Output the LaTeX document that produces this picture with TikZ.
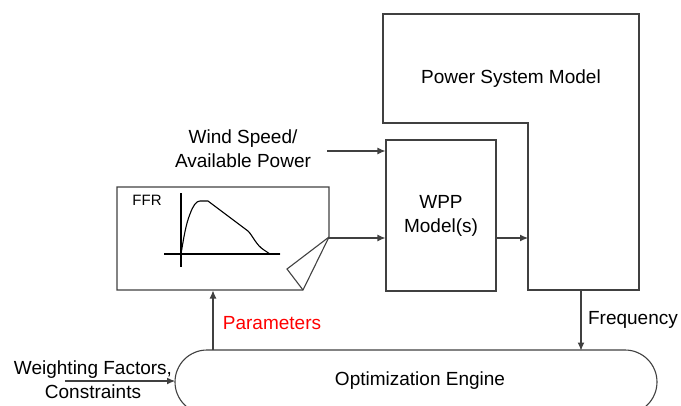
\documentclass[tikz,border=0pt]{standalone}
\usepackage{fontspec}
\setmainfont{Liberation Sans}
\usetikzlibrary{arrows.meta}
\definecolor{ln}{HTML}{404040}
\tikzset{
  box/.style={draw=ln, line width=1.1pt},
  arr/.style={draw=ln, line width=1.1pt, -{Latex[length=8pt,width=7pt]}},
  lbl/.style={font=\fontsize{19}{24}\selectfont, align=center, inner sep=0pt},
  curve/.style={draw=black, line width=1.1pt, line join=round},
}
\begin{document}
\begin{tikzpicture}[x=1pt,y=-1pt]
\useasboundingbox (0,0) rectangle (681,405);
% Power system model (L shape)
\draw[box] (383,14) -- (639,14) -- (639,290) -- (528,290) -- (528,123) -- (383,123) -- cycle;
\node[lbl] (ps) at (511,79) {Power System Model};
\coordinate (psin) at (528,238);
\coordinate (psout) at (581,290);
% WPP
\node[box, lbl, minimum width=110pt, minimum height=151pt] (wpp) at (441,215.5) {WPP\\Model(s)};
% Wind speed
\node[lbl] (wind) at (243,149) {Wind Speed/\\Available Power};
\coordinate (windout) at (327,151);
% FFR box
\draw[box] (117,187) -- (329,187) -- (329,237) -- (303,290) -- (117,290) -- cycle;
\draw[box] (329,237) -- (287,269) -- (303,290);
\coordinate (ffrout) at (329,238);
\coordinate (ffrin) at (213,290.5);
\node[font=\fontsize{15}{18}\selectfont, inner sep=0pt] (ffr) at (147,200) {FFR};
\draw[curve] (181,193) -- (181,267);
\draw[curve] (164,254) -- (280,254);
\draw[curve] (181,254) .. controls (184,236) and (186,224) .. (190,214)
  .. controls (193,206) and (196,201) .. (200,201) -- (208,201) -- (248,231)
  .. controls (253,236) and (256,245) .. (264,250) -- (270,254) -- (280,254);
% Optimization engine
\draw[box, rounded corners=32pt] (175,350) rectangle (657,414);
\node[lbl] (opt) at (420,381) {Optimization Engine};
\coordinate (optparam) at (213,350);
\coordinate (optfreq) at (581,350.5);
\coordinate (optin) at (175,381);
% labels
\node[lbl, text=red] (params) at (272,323) {Parameters};
\node[lbl] (freq) at (633,320) {Frequency};
\node[lbl] (weight) at (93,380) {Weighting Factors,\\Constraints};
\coordinate (weightout) at (65,381);
% arrows
\draw[arr] (windout) -- (wpp.west |- windout);
\draw[arr] (ffrout) -- (wpp.west |- ffrout);
\draw[arr] (wpp.east |- psin) -- (psin);
\draw[arr] (psout) -- (optfreq);
\draw[arr] (optparam) -- (ffrin);
\draw[arr] (weightout) -- (optin);
\end{tikzpicture}
\end{document}
